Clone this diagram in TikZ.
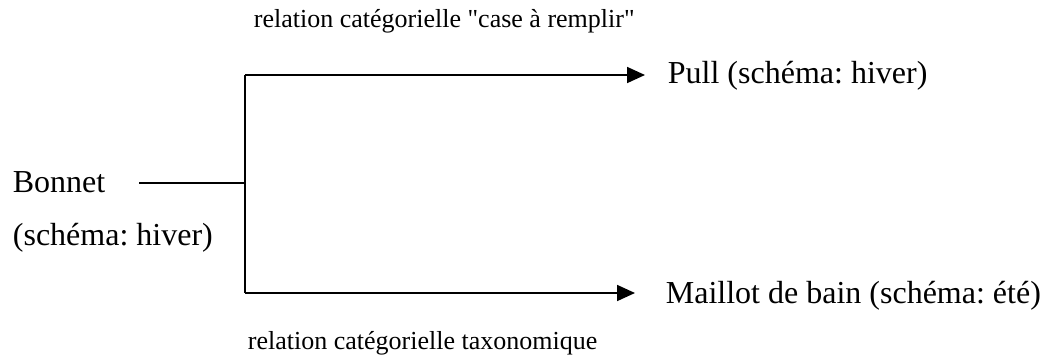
\documentclass[tikz,border=0pt]{standalone}
\usepackage{fontspec}
\setmainfont{Liberation Serif}
\usetikzlibrary{arrows.meta}
\frenchspacing

\begin{document}
\begin{tikzpicture}[x = 0.5pt, y = -0.5pt, line width = 0.9pt, font = \fontsize{16}{19}\selectfont]
	\tikzstyle{ItemStyle} = [anchor = base west, inner sep = 0pt]
	\tikzstyle{RelationStyle} = [anchor = base west, inner sep = 0pt, font = \fontsize{13}{15}\selectfont]
	\tikzstyle{LinkStyle} = [-{Triangle[length = 9pt, width = 8pt]}]
	\useasboundingbox (0,0) rectangle (1041,355);
	\node[ItemStyle] (bonnet) at (12,192) {Bonnet};
	\node[ItemStyle] (bonnetschema) at (12,245) {(schéma: hiver)};
	\node[ItemStyle] (pull) at (667,83) {Pull (schéma: hiver)};
	\node[ItemStyle] (maillot) at (665,303) {Maillot de bain (schéma: été)};
	\node[RelationStyle] (relcase) at (253,27) {relation catégorielle \textquotedbl case à remplir\textquotedbl};
	\node[RelationStyle] (reltaxo) at (247,349) {relation catégorielle taxonomique};
	\coordinate (b0) at (139,183);
	\coordinate (fork) at (245,183);
	\coordinate (up) at (245,75);
	\coordinate (down) at (245,293);
	\draw (b0) -- (fork);
	\draw (up) -- (down);
	\draw[LinkStyle, shorten >= 11pt] (up) -- (up -| pull.west);
	\draw[LinkStyle, shorten >= 15pt] (down) -- (down -| maillot.west);
\end{tikzpicture}
\end{document}
